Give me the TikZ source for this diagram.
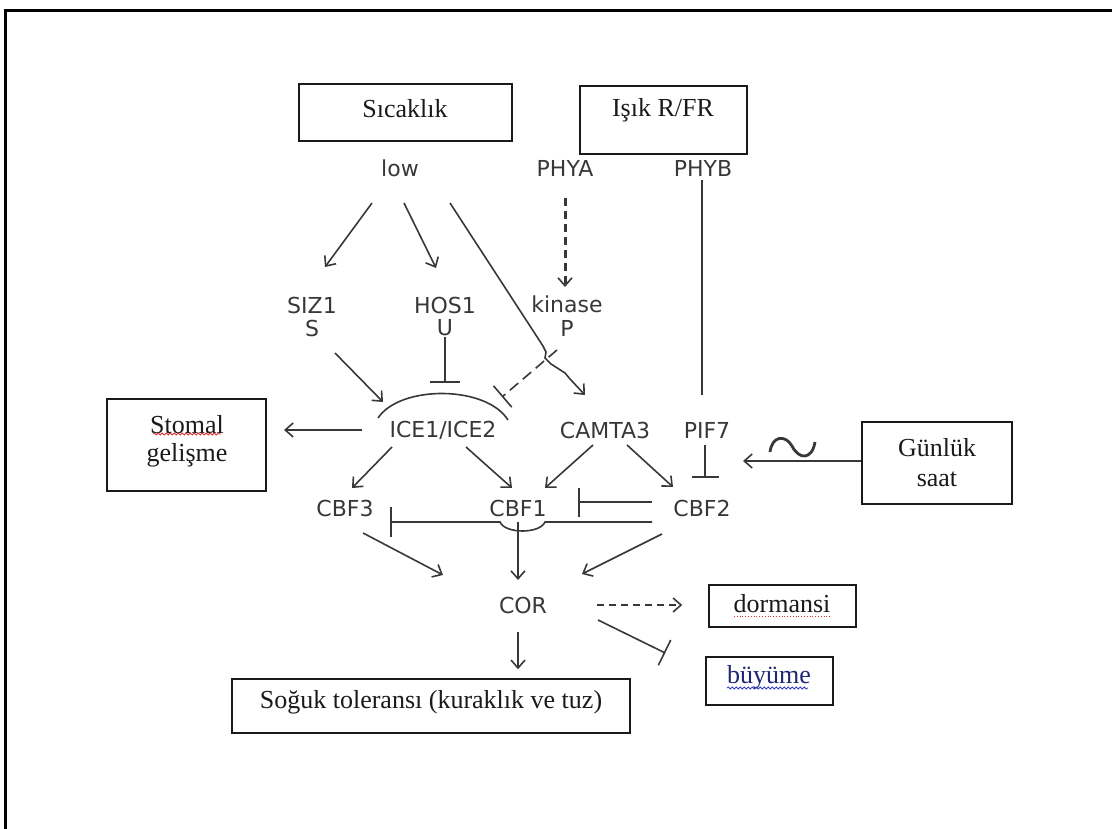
\documentclass[tikz,border=0pt]{standalone}
\usepackage{fontspec}
\setmainfont{Liberation Serif}
\newfontfamily\labfont{DejaVu Sans}
\usetikzlibrary{arrows.meta,decorations.pathmorphing,calc}
\definecolor{ink}{HTML}{383838}
\definecolor{boxink}{HTML}{1A1A1A}
\definecolor{spellred}{HTML}{E03030}
\definecolor{gramblue}{HTML}{3040C0}
\begin{document}
\begin{tikzpicture}[x=1pt,y=-1pt,
  lbl/.style={font=\labfont\fontsize{22}{24}\selectfont, text=ink, inner sep=0pt},
  boxtext/.style={font=\fontsize{26}{30}\selectfont, text=boxink, inner sep=0pt},
  frame/.style={draw=boxink, line width=1.5pt, inner sep=0pt},
  ln/.style={draw=ink, line width=1.6pt},
  arr/.style={ln, -{Straight Barb[length=8pt,width=14pt,line width=1.6pt]}},
  inh/.style={ln, -{Bar[width=#1,line width=1.6pt]}},
  inh/.default=29pt,
  squig/.style={decorate, decoration={snake, amplitude=1pt, segment length=4pt}, line width=0.8pt}
]
\useasboundingbox (0,0) rectangle (1112,829);
% outer frame
\draw[black, line width=3pt] (5,829) -- (5,11) -- (1112,11);

% boxes
\node[frame, minimum width=213pt, minimum height=57pt] (sicbox) at (405.5,112.5) {};
\node[boxtext] (sic) at (405,109) {Sıcaklık};
\node[frame, minimum width=167pt, minimum height=68pt] (isikbox) at (663.5,120) {};
\node[boxtext] (isik) at (663,110) {Işık R/FR};
\node[frame, minimum width=159pt, minimum height=92pt] (stombox) at (186.5,445) {};
\node[boxtext] (stom1) at (187,425) {Stomal};
\node[boxtext] (stom2) at (187,455) {gelişme};
\node[frame, minimum width=150pt, minimum height=82pt] (gunbox) at (937,463) {};
\node[boxtext] (gun1) at (937,448) {Günlük};
\node[boxtext] (gun2) at (937,479) {saat};
\node[frame, minimum width=147pt, minimum height=42pt] (dormbox) at (782.5,606) {};
\node[boxtext] (dorm) at (782,604) {dormansi};
\node[frame, minimum width=127pt, minimum height=48pt] (buybox) at (769.5,681) {};
\node[boxtext, text=gramblue!60!black] (buy) at (769,677) {büyüme};
\node[frame, minimum width=398pt, minimum height=54pt] (sogbox) at (431,706) {};
\node[boxtext] (sog) at (431,702) {Soğuk toleransı (kuraklık ve tuz)};

% spell-check underlines
\draw[spellred, squig] (153,434) -- (221,434);
\draw[spellred, line width=0.8pt, dotted] (734,616) -- (830,616);
\draw[gramblue, squig] (727,688) -- (808,688);

% labels
\node[lbl] (low) at (400,168) {low};
\node[lbl] (phya) at (565,168) {PHYA};
\node[lbl] (phyb) at (703,168) {PHYB};
\node[lbl] (siz1) at (312,305) {SIZ1};
\node[lbl] (s) at (312,328) {S};
\node[lbl] (hos1) at (445,305) {HOS1};
\node[lbl] (u) at (445,328) {U};
\node[lbl] (kinase) at (567,304) {kinase};
\node[lbl] (p) at (567,328) {P};
\node[lbl] (ice) at (443,430) {ICE1/ICE2};
\node[lbl] (camta) at (605,430) {CAMTA3};
\node[lbl] (pif) at (707,430) {PIF7};
\node[lbl] (cbf3) at (345,508) {CBF3};
\node[lbl] (cbf1) at (518,508) {CBF1};
\node[lbl] (cbf2) at (702,508) {CBF2};
\node[lbl] (cor) at (523,605) {COR};

% connectors
\draw[arr] ($(low)+(-28,35)$) -- ($(siz1)+(13,-38)$);
\draw[arr] ($(low)+(4,35)$) -- ($(hos1)+(-9,-37)$);
\draw[arr] ($(low)+(50,35)$) -- (543,346) -- (546,352) -- (545,358) -- (551,364) -- (565,373) -- (570,379) -- ($(camta)+(-20,-35)$);
\draw[draw=ink, line width=3pt, dash pattern=on 8pt off 5pt, -{Straight Barb[length=8pt,width=14pt,line width=1.6pt]}] ($(phya)+(0,30)$) -- ($(kinase)+(-2,-17)$);
\draw[arr] ($(s)+(23,25)$) -- ($(ice)+(-60,-28)$);
\draw[inh=30pt] ($(u)+(0,9)$) -- ($(ice)+(2,-47)$);
\draw[ln] ($(ice)+(-65,-12)$) .. controls ($(ice)+(-43,-45)$) and ($(ice)+(43,-45)$) .. ($(ice)+(65,-10)$);
\draw[inh=28pt, dash pattern=on 11pt off 6pt] ($(p)+(-10,22)$) -- ($(ice)+(59,-33)$);
\draw[arr] ($(ice)+(-81,0)$) -- ($(ice)+(-159,0)$);
\draw[arr] ($(ice)+(-51,17)$) -- ($(cbf3)+(7,-20)$);
\draw[arr] ($(ice)+(23,17)$) -- ($(cbf1)+(-6,-20)$);
\draw[arr] ($(camta)+(-12,15)$) -- ($(cbf1)+(27,-20)$);
\draw[arr] ($(camta)+(22,15)$) -- ($(cbf2)+(-29,-21)$);
\draw[ln] ($(phyb)+(-1,12)$) -- ($(pif)+(-5,-35)$);
\draw[inh=27pt] ($(pif)+(-2,15)$) -- ($(cbf2)+(3,-30)$);
\coordinate (gunend) at ($(cbf2)+(41,-47)$);
\draw[arr] (gunbox.west |- gunend) -- (gunend);
\draw[ln, line width=2.8pt] (770,452) .. controls (772,436) and (785,434) .. (792,446) .. controls (799,460) and (812,460) .. (815,442);
\draw[inh=29pt] ($(cbf2)+(-50,-6)$) -- ($(cbf1)+(60,-6)$);
\draw[inh=30pt] ($(cbf2)+(-50,14)$) -- ($(cbf1)+(27,14)$) .. controls ($(cbf1)+(22,26)$) and ($(cbf1)+(-13,26)$) .. ($(cbf1)+(-18,14)$) -- ($(cbf3)+(45,14)$);
\draw[arr] ($(cbf1)+(0,14)$) -- ($(cor)+(-5,-25)$);
\draw[arr] ($(cbf3)+(18,25)$) -- ($(cor)+(-80,-30)$);
\draw[arr] ($(cbf2)+(-40,26)$) -- ($(cor)+(59,-31)$);
\draw[ln, dash pattern=on 7pt off 5pt, -{Straight Barb[length=8pt,width=14pt,line width=1.6pt]}] ($(cor)+(74,0)$) -- ($(dormbox.west)+(-26,-1)$);
\draw[inh=28pt] ($(cor)+(75,15)$) -- ($(buybox.west)+(-40,-28)$);
\draw[arr] ($(cor)+(-5,27)$) -- ($(sogbox.north)+(87,-9)$);
\end{tikzpicture}
\end{document}
